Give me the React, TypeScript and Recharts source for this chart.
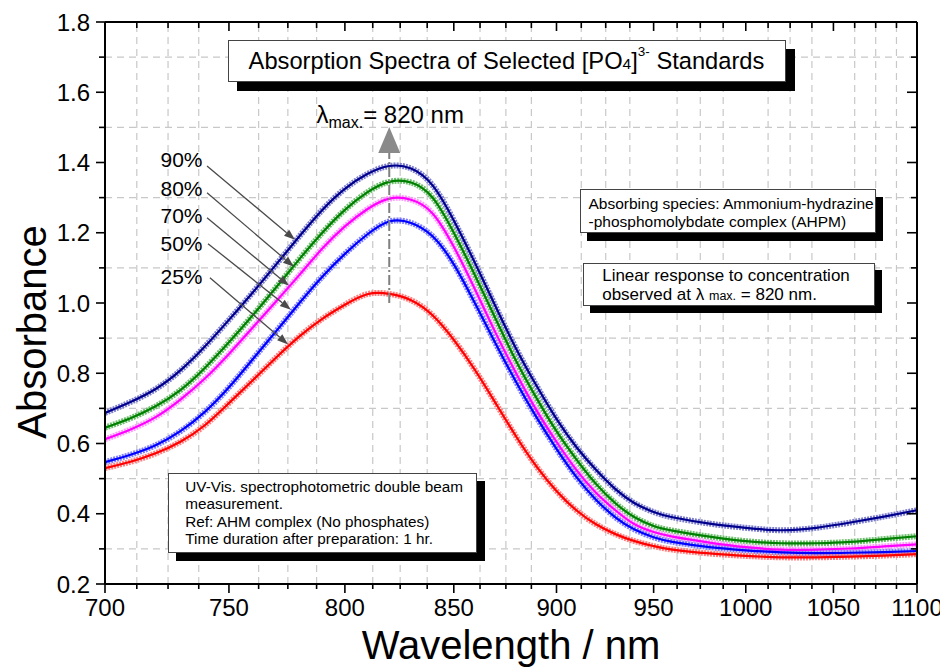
import React from 'react';
import { ComposedChart, Line, XAxis, YAxis, ReferenceLine, ReferenceDot } from 'recharts';

const FONT = '"Liberation Sans", Arial, Helvetica, sans-serif';

const wavelengths = [700, 710, 720, 730, 740, 750, 760, 770, 780, 790, 800, 810, 820, 830, 840, 850, 860, 870, 880, 890, 900, 910, 920, 930, 940, 950, 960, 980, 1000, 1020, 1040, 1060, 1080, 1100];

const s90 = [0.687, 0.718, 0.755, 0.808, 0.876, 0.952, 1.03, 1.11, 1.19, 1.265, 1.325, 1.367, 1.39, 1.383, 1.335, 1.235, 1.115, 0.99, 0.87, 0.765, 0.67, 0.59, 0.525, 0.47, 0.43, 0.405, 0.39, 0.372, 0.36, 0.353, 0.36, 0.375, 0.392, 0.41];
const s80 = [0.645, 0.672, 0.706, 0.752, 0.815, 0.888, 0.965, 1.045, 1.125, 1.2, 1.265, 1.315, 1.345, 1.343, 1.3, 1.2, 1.08, 0.955, 0.835, 0.73, 0.635, 0.555, 0.485, 0.43, 0.39, 0.365, 0.352, 0.335, 0.322, 0.316, 0.316, 0.32, 0.328, 0.336];
const s70 = [0.612, 0.64, 0.675, 0.725, 0.785, 0.855, 0.93, 1.005, 1.08, 1.155, 1.218, 1.267, 1.297, 1.294, 1.255, 1.16, 1.04, 0.915, 0.8, 0.695, 0.605, 0.525, 0.46, 0.41, 0.37, 0.348, 0.335, 0.318, 0.305, 0.298, 0.298, 0.301, 0.307, 0.313];
const s50 = [0.547, 0.568, 0.595, 0.635, 0.69, 0.76, 0.84, 0.92, 1.0, 1.075, 1.14, 1.195, 1.232, 1.228, 1.19, 1.11, 1.0, 0.885, 0.775, 0.675, 0.585, 0.505, 0.44, 0.39, 0.355, 0.333, 0.32, 0.305, 0.296, 0.29, 0.288, 0.289, 0.291, 0.294];
const s25 = [0.53, 0.548, 0.572, 0.605, 0.652, 0.715, 0.78, 0.845, 0.905, 0.955, 0.995, 1.025, 1.026, 1.008, 0.965, 0.895, 0.81, 0.715, 0.62, 0.535, 0.465, 0.41, 0.37, 0.342, 0.322, 0.308, 0.298, 0.287, 0.28, 0.276, 0.276, 0.278, 0.281, 0.285];

const seriesKeys = ['s90', 's80', 's70', 's50', 's25'];
const seriesDark = ['#00008c', '#008000', '#ff00ff', '#0000ff', '#ff0000'];
const seriesLight = ['#7f7fd0', '#6fbf6f', '#ff99ff', '#8080ff', '#ff8080'];

const xTicks = [700, 712.5, 725, 737.5, 750, 762.5, 775, 787.5, 800, 812.5, 825, 837.5, 850, 862.5, 875, 887.5, 900, 912.5, 925, 937.5, 950, 962.5, 975, 987.5, 1000, 1012.5, 1025, 1037.5, 1050, 1062.5, 1075, 1087.5, 1100];
const yTicks = [0.2, 0.3, 0.4, 0.5, 0.6, 0.7, 0.8, 0.9, 1.0, 1.1, 1.2, 1.3, 1.4, 1.5, 1.6, 1.7, 1.8];
const xGrid = [712.5, 725, 737.5, 762.5, 775, 787.5, 812.5, 825, 837.5, 862.5, 875, 887.5, 912.5, 925, 937.5, 962.5, 975, 987.5, 1012.5, 1025, 1037.5, 1062.5, 1075, 1087.5];
const yGrid = [0.3, 0.5, 0.7, 0.9, 1.1, 1.3, 1.5, 1.7];

const percentLabels = ['90%', '80%', '70%', '50%', '25%'];
const labelArrows = [
  { x1: 740.9, y1: 1.39, x2: 778.1, y2: 1.18 },
  { x1: 740.9, y1: 1.314, x2: 777.6, y2: 1.103 },
  { x1: 740.9, y1: 1.243, x2: 775.5, y2: 1.049 },
  { x1: 741.3, y1: 1.169, x2: 776.3, y2: 0.981 },
  { x1: 742.1, y1: 1.072, x2: 775.1, y2: 0.882 },
];
const lambdaMax = 820;
const lambdaLineFrom = 1.0;
const lambdaLineTo = 1.427;

const data = wavelengths.map((w, i) => ({ w, s90: s90[i], s80: s80[i], s70: s70[i], s50: s50[i], s25: s25[i] }));

const isMajorX = (v: number) => Math.abs(v % 50) < 1e-6;
const isMajorY = (v: number) => Math.round(v * 10) % 2 === 0;

const BottomTick = (props: any) => {
  const { x, y, payload } = props;
  const major = isMajorX(payload.value);
  return (
    <g>
      <line x1={x} y1={y} x2={x} y2={y + (major ? 9 : 5)} stroke="#000" strokeWidth={1.6} />
      {major && (
        <text x={x} y={y + 32} textAnchor="middle" fontSize={24} fontFamily={FONT} fill="#000">
          {payload.value}
        </text>
      )}
    </g>
  );
};

const TopTick = (props: any) => {
  const { x, y, payload } = props;
  const major = isMajorX(payload.value);
  return <line x1={x} y1={y} x2={x} y2={y + (major ? 9 : 6)} stroke="#000" strokeWidth={1.6} />;
};

const LeftTick = (props: any) => {
  const { x, y, payload } = props;
  const major = isMajorY(payload.value);
  return (
    <g>
      <line x1={x} y1={y} x2={x - (major ? 9 : 6)} y2={y} stroke="#000" strokeWidth={1.6} />
      {major && (
        <text x={x - 15} y={y + 8.5} textAnchor="end" fontSize={24} fontFamily={FONT} fill="#000">
          {Number(payload.value).toFixed(1)}
        </text>
      )}
    </g>
  );
};

const RightTick = (props: any) => {
  const { x, y, payload } = props;
  const major = isMajorY(payload.value);
  return <line x1={x} y1={y} x2={x - (major ? 10 : 6)} y2={y} stroke="#000" strokeWidth={1.6} />;
};

const ArrowShape = (p: any) => {
  const { x1, y1, x2, y2 } = p;
  if ([x1, y1, x2, y2].some((v) => typeof v !== 'number' || isNaN(v))) return <g />;
  const dx = x2 - x1;
  const dy = y2 - y1;
  const L = Math.hypot(dx, dy) || 1;
  const ux = dx / L;
  const uy = dy / L;
  const hl = 11;
  const hw = 4;
  const bx = x2 - ux * hl;
  const by = y2 - uy * hl;
  return (
    <g>
      <line x1={x1} y1={y1} x2={bx} y2={by} stroke="#4a4a4a" strokeWidth={1.3} />
      <polygon points={`${x2},${y2} ${bx - uy * hw},${by + ux * hw} ${bx + uy * hw},${by - ux * hw}`} fill="#4a4a4a" />
    </g>
  );
};

const TriangleUp = (p: any) => {
  const { cx, cy } = p;
  return <polygon points={`${cx - 11},${cy} ${cx + 11},${cy} ${cx},${cy - 26}`} fill="#8a8a8a" />;
};

const YLabel = (p: any) => {
  const vb = p.viewBox || { x: 0, y: 14, width: 97, height: 562 };
  const cx = 24;
  const cy = vb.y + vb.height / 2 + 29;
  return (
    <text x={cx} y={cy} transform={`rotate(-90 ${cx} ${cy})`} textAnchor="middle" dominantBaseline="central" fontSize={40} fontFamily={FONT} fill="#000">
      Absorbance
    </text>
  );
};

const XLabel = (p: any) => {
  const vb = p.viewBox || { x: 97, y: 576, width: 812, height: 84 };
  return (
    <text x={vb.x + vb.width / 2} y={vb.y + 75} textAnchor="middle" fontSize={40} fontFamily={FONT} fill="#000">
      Wavelength / nm
    </text>
  );
};

const boxBase: React.CSSProperties = {
  position: 'absolute',
  background: '#fff',
  border: '1px solid #444',
  boxSizing: 'border-box',
  fontFamily: FONT,
  color: '#000',
  whiteSpace: 'nowrap',
};

export default function App() {
  return (
    <div style={{ position: 'relative', width: 940, height: 660, fontFamily: FONT }}>
      <ComposedChart width={940} height={660} data={data} margin={{ top: 13, right: 30, bottom: 0, left: 0 }}>
        <XAxis
          xAxisId="b"
          dataKey="w"
          type="number"
          scale="log"
          domain={[700, 1100]}
          allowDataOverflow
          ticks={xTicks}
          interval={0}
          tickSize={0}
          tickMargin={0}
          tickLine={false}
          tick={<BottomTick />}
          height={84}
          axisLine={{ stroke: '#000', strokeWidth: 2 }}
          label={<XLabel />}
        />
        <XAxis
          xAxisId="t"
          orientation="top"
          dataKey="w"
          type="number"
          scale="log"
          domain={[700, 1100]}
          allowDataOverflow
          ticks={xTicks}
          interval={0}
          tickSize={0}
          tickMargin={0}
          tickLine={false}
          tick={<TopTick />}
          height={1}
          axisLine={{ stroke: '#000', strokeWidth: 2 }}
        />
        <YAxis
          yAxisId="l"
          type="number"
          domain={[0.2, 1.8]}
          allowDataOverflow
          ticks={yTicks}
          interval={0}
          tickSize={0}
          tickMargin={0}
          tickLine={false}
          tick={<LeftTick />}
          width={97}
          axisLine={{ stroke: '#000', strokeWidth: 2 }}
          label={<YLabel />}
        />
        <YAxis
          yAxisId="r"
          orientation="right"
          type="number"
          domain={[0.2, 1.8]}
          allowDataOverflow
          ticks={yTicks}
          interval={0}
          tickSize={0}
          tickMargin={0}
          tickLine={false}
          tick={<RightTick />}
          width={1}
          axisLine={{ stroke: '#000', strokeWidth: 2 }}
        />
        {yGrid.map((v) => (
          <ReferenceLine key={'gy' + v} xAxisId="b" yAxisId="l" y={v} stroke="#c8c8c8" strokeWidth={1.2} strokeDasharray="7 5" />
        ))}
        {xGrid.map((v) => (
          <ReferenceLine key={'gx' + v} xAxisId="b" yAxisId="l" x={v} stroke="#c8c8c8" strokeWidth={1.2} strokeDasharray="7 5" />
        ))}
        {seriesKeys.map((k, i) => (
          <Line
            key={k + 'light'}
            xAxisId="b"
            yAxisId="l"
            dataKey={k}
            type="natural"
            stroke={seriesLight[i]}
            strokeWidth={6}
            strokeDasharray="2 1"
            dot={false}
            activeDot={false}
            isAnimationActive={false}
          />
        ))}
        {seriesKeys.map((k, i) => (
          <Line
            key={k + 'dark'}
            xAxisId="b"
            yAxisId="l"
            dataKey={k}
            type="natural"
            stroke={seriesDark[i]}
            strokeWidth={2.2}
            dot={false}
            activeDot={false}
            isAnimationActive={false}
          />
        ))}
        {labelArrows.map((a, i) => (
          <ReferenceLine
            key={'arr' + i}
            xAxisId="b"
            yAxisId="l"
            segment={[{ x: a.x1, y: a.y1 }, { x: a.x2, y: a.y2 }]}
            stroke="#4a4a4a"
            shape={ArrowShape}
          />
        ))}
        <ReferenceLine
          xAxisId="b"
          yAxisId="l"
          segment={[{ x: lambdaMax, y: lambdaLineFrom }, { x: lambdaMax, y: lambdaLineTo }]}
          stroke="#808080"
          strokeWidth={2}
          strokeDasharray="10 3 2 3"
        />
        <ReferenceDot xAxisId="b" yAxisId="l" x={lambdaMax} y={lambdaLineTo} r={0} shape={TriangleUp} />
      </ComposedChart>

      {/* Title box */}
      <div
        style={{
          ...boxBase,
          left: 219.5,
          top: 32,
          width: 558,
          height: 42,
          boxShadow: '9px 9px 0 #000',
          fontSize: 23.7,
          lineHeight: '40px',
          textAlign: 'center',
        }}
      >
        Absorption Spectra of Selected [PO<span style={{ fontSize: 15.5 }}>4</span>]
        <sup style={{ fontSize: 13.5, verticalAlign: 'top', lineHeight: '22px' }}>3-</sup> Standards
      </div>

      {/* lambda max */}
      <div style={{ position: 'absolute', left: 308.5, top: 93, fontSize: 24, lineHeight: '27px', whiteSpace: 'nowrap' }}>
        λ<sub style={{ fontSize: 16, verticalAlign: '-5px', lineHeight: 0 }}>max.</sub>= 820 nm
      </div>

      {/* percentage labels */}
      {percentLabels.map((t, i) => (
        <div
          key={t}
          style={{
            position: 'absolute',
            left: 152.5,
            top: [152, 181, 208, 236, 268.7][i] - 12,
            fontSize: 21,
            lineHeight: '24px',
            whiteSpace: 'nowrap',
          }}
        >
          {t}
        </div>
      ))}

      {/* Absorbing species box */}
      <div
        style={{
          ...boxBase,
          left: 572,
          top: 181.3,
          width: 296,
          height: 44,
          boxShadow: '7px 8px 0 #000',
          fontSize: 15.5,
          lineHeight: '17.7px',
          padding: '5px 0 0 7.5px',
        }}
      >
        Absorbing species: Ammonium-hydrazine
        <br />
        -phosphomolybdate complex (AHPM)
      </div>

      {/* Linear response box */}
      <div
        style={{
          ...boxBase,
          left: 574.7,
          top: 255.3,
          width: 292.3,
          height: 43,
          boxShadow: '7px 7px 0 #000',
          fontSize: 17,
          lineHeight: '18.3px',
          padding: '3px 0 0 18.5px',
        }}
      >
        Linear response to concentration
        <br />
        observed at λ <span style={{ fontSize: 12.5 }}>max.</span> = 820 nm.
      </div>

      {/* UV-Vis box */}
      <div
        style={{
          ...boxBase,
          left: 160.3,
          top: 464.7,
          width: 308.4,
          height: 80,
          boxShadow: '8px 8px 0 #000',
          fontSize: 15.3,
          lineHeight: '17.3px',
          padding: '4.5px 0 0 16px',
        }}
      >
        UV-Vis. spectrophotometric double beam
        <br />
        measurement.
        <br />
        Ref: AHM complex (No phosphates)
        <br />
        Time duration after preparation: 1 hr.
      </div>
    </div>
  );
}
